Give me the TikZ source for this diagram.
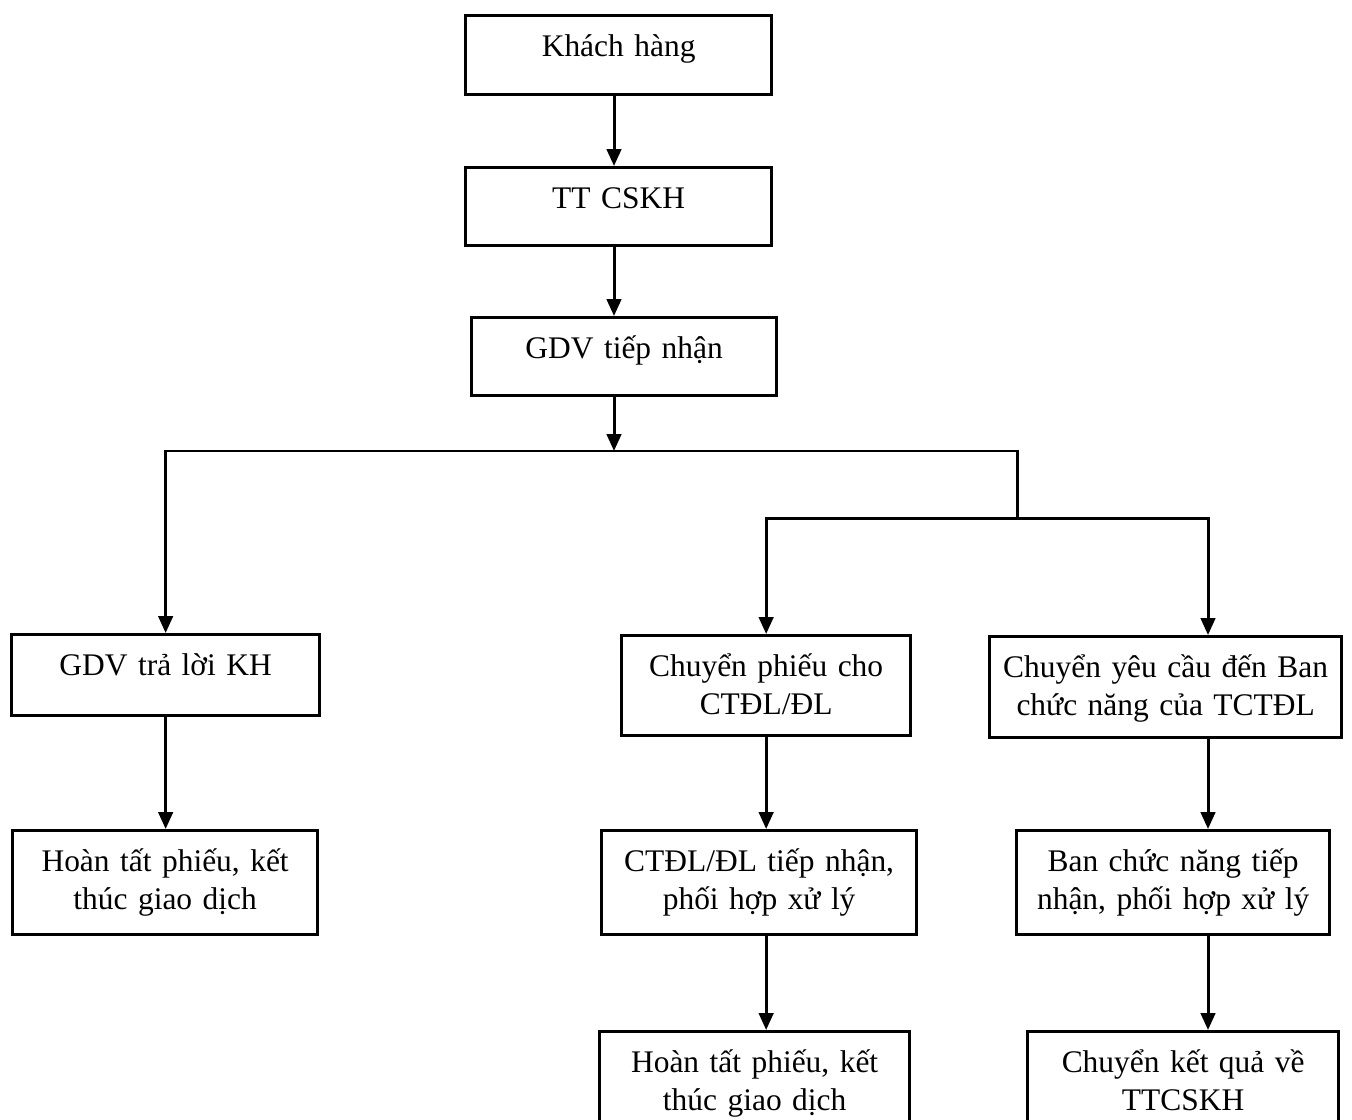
\documentclass[tikz,border=0pt]{standalone}
\usepackage{fontspec}
\setmainfont{Liberation Serif}
\usepackage{tikz}
\usetikzlibrary{arrows.meta}
\tikzset{
    box/.style={
           rectangle,
           draw=black, line width=1.9pt,
           inner xsep=0pt, inner ysep=0pt,
           text height=0.82cm,
           anchor=north west,
           text centered,
           font=\fontsize{17.9}{21.6}\selectfont,
           },
    flow/.style={
           ->, line width=1.7pt,
           },
}

\begin{document}
\begin{tikzpicture}[x=0.02cm, y=-0.02cm, >={Triangle[length=0.34cm, width=0.29cm]}]
    \useasboundingbox (0,0) rectangle (1352,1119);

    % Top column: customer, centre, operator
    \node[box,
    text width=6.12cm, 	% box width
    text depth=0.76cm] (kh) at (464,14)
    {Khách hàng};

    \node[box,
    text width=6.12cm,
    text depth=0.74cm] (tt) at (464,166)
    {TT CSKH};

    \node[box,
    text width=6.10cm,
    text depth=0.74cm] (gdv) at (470,316)
    {GDV tiếp nhận};

    % Left branch
    \node[box,
    text width=6.16cm,
    text depth=0.80cm] (traloi) at (10,633)
    {GDV trả lời KH};

    \node[box,
    text width=6.10cm,
    text depth=1.26cm] (httrai) at (11,829)
    {Hoàn tất phiếu, kết\\thúc giao dịch};

    % Middle branch
    \node[box,
    text width=5.78cm,
    text depth=1.18cm] (chuyenphieu) at (620,634)
    {Chuyển phiếu cho\\CTĐL/ĐL};

    \node[box,
    text width=6.30cm,
    text depth=1.26cm] (ctdl) at (600,829)
    {CTĐL/ĐL tiếp nhận,\\phối hợp xử lý};

    \node[box,
    text width=6.20cm,
    text depth=1.40cm] (htgiua) at (598,1030)
    {Hoàn tất phiếu, kết\\thúc giao dịch};

    % Right branch
    \node[box,
    text width=7.04cm,
    text depth=1.20cm] (chuyenyc) at (988,635)
    {Chuyển yêu cầu đến Ban\\chức năng của TCTĐL};

    \node[box,
    text width=6.26cm,
    text depth=1.26cm] (ban) at (1015,829)
    {Ban chức năng tiếp\\nhận, phối hợp xử lý};

    \node[box,
    text width=6.22cm,
    text depth=1.40cm] (ketqua) at (1026,1030)
    {Chuyển kết quả về\\TTCSKH};

    % branch points
    \coordinate (split) at (614,451);
    \coordinate (nhanh) at (1017,518);
    \coordinate (phai) at (1208,518);

    % draw the arrows
    \draw[flow] (kh.south -| split) -- (tt.north -| split);
    \draw[flow] (tt.south -| split) -- (gdv.north -| split);
    \draw[flow] (gdv.south -| split) -- (split);
    \draw[flow] (split) -| (traloi.north);
    \draw[flow] (split) -| (nhanh) -| (chuyenphieu.north);
    \draw[flow] (nhanh) -| (phai |- chuyenyc.north);

    \draw[flow] (traloi.south) -- (traloi.south |- httrai.north);
    \draw[flow] (chuyenphieu.south) -- (chuyenphieu.south |- ctdl.north);
    \draw[flow] (ctdl.south -| chuyenphieu.south) -- (chuyenphieu.south |- htgiua.north);
    \draw[flow] (chuyenyc.south -| phai) -- (ban.north -| phai);
    \draw[flow] (ban.south -| phai) -- (ketqua.north -| phai);
\end{tikzpicture}
\end{document}
